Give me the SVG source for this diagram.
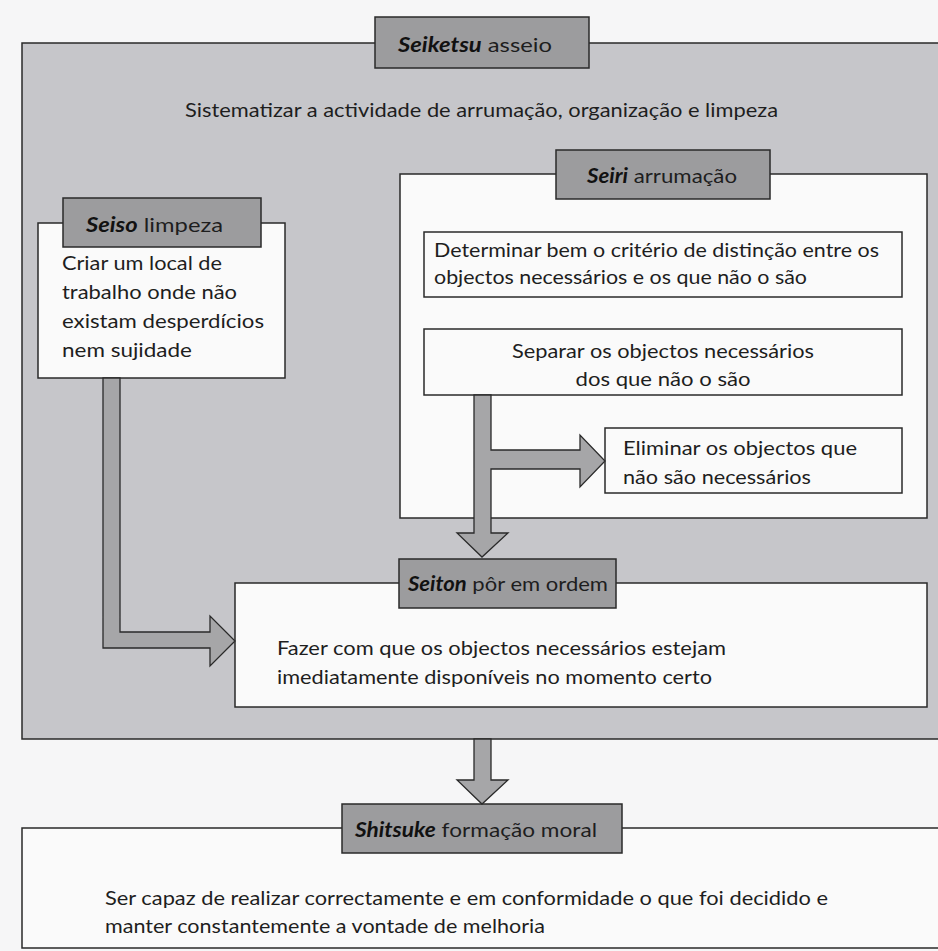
<svg xmlns="http://www.w3.org/2000/svg" width="938" height="951" viewBox="0 0 938 951">
  <style>
    .frame { fill: #c6c6ca; stroke: #2a2a2a; stroke-width: 1.5; }
    .box { fill: #fafafa; stroke: #2a2a2a; stroke-width: 1.5; }
    .tab { fill: #9c9c9e; stroke: #2a2a2a; stroke-width: 1.5; }
    .flow { fill: #a6a6a8; stroke: #2a2a2a; stroke-width: 1.3; stroke-linejoin: miter; }
    text { font-family: Lato, "Open Sans", "Liberation Sans", sans-serif; font-size: 20px; font-weight: 400; fill: #1e1e1e; }
    .key { font-weight: 700; font-style: italic; fill: #111; }
    .mid { text-anchor: middle; }
  </style>

  <rect x="0" y="0" width="938" height="951" fill="#f6f6f7"/>

  <!-- Seiketsu: outer frame holding the whole cycle -->
  <g id="seiketsu">
    <path class="frame" d="M22,43 H945 V739 H22 Z"/>
    <rect class="tab" x="375" y="17" width="214" height="51"/>
    <text x="398" y="52" textLength="154" lengthAdjust="spacingAndGlyphs"><tspan class="key">Seiketsu</tspan> asseio</text>
    <text x="185" y="117" textLength="593" lengthAdjust="spacingAndGlyphs">Sistematizar a actividade de arrumação, organização e limpeza</text>
  </g>

  <!-- Seiri: sorting steps -->
  <g id="seiri">
    <rect class="box" x="400" y="174" width="527" height="344"/>
    <rect class="tab" x="556" y="150" width="214" height="49"/>
    <text x="587" y="183" textLength="150" lengthAdjust="spacingAndGlyphs"><tspan class="key">Seiri</tspan> arrumação</text>
  </g>
  <g id="seiri-criterio">
    <rect class="box" x="424" y="232" width="478" height="65"/>
    <text x="434" y="257" textLength="445" lengthAdjust="spacingAndGlyphs">Determinar bem o critério de distinção entre os</text>
    <text x="434" y="284" textLength="373" lengthAdjust="spacingAndGlyphs">objectos necessários e os que não o são</text>
  </g>
  <g id="seiri-separar">
    <rect class="box" x="424" y="329" width="478" height="66"/>
    <text class="mid" x="663" y="358" textLength="302" lengthAdjust="spacingAndGlyphs">Separar os objectos necessários</text>
    <text class="mid" x="663" y="386" textLength="175" lengthAdjust="spacingAndGlyphs">dos que não o são</text>
  </g>
  <g id="seiri-eliminar">
    <rect class="box" x="605" y="428" width="297" height="65"/>
    <text x="623" y="455" textLength="234" lengthAdjust="spacingAndGlyphs">Eliminar os objectos que</text>
    <text x="623" y="484" textLength="188" lengthAdjust="spacingAndGlyphs">não são necessários</text>
  </g>

  <!-- Seiso: cleaning -->
  <g id="seiso">
    <rect class="box" x="38" y="223" width="247" height="155"/>
    <rect class="tab" x="63" y="198" width="198" height="49"/>
    <text x="86" y="232" textLength="137" lengthAdjust="spacingAndGlyphs"><tspan class="key">Seiso</tspan> limpeza</text>
    <text x="62" y="270" textLength="160" lengthAdjust="spacingAndGlyphs">Criar um local de</text>
    <text x="62" y="299" textLength="175" lengthAdjust="spacingAndGlyphs">trabalho onde não</text>
    <text x="62" y="328" textLength="202" lengthAdjust="spacingAndGlyphs">existam desperdícios</text>
    <text x="62" y="357" textLength="130" lengthAdjust="spacingAndGlyphs">nem sujidade</text>
  </g>

  <!-- Seiton: putting in order -->
  <g id="seiton">
    <rect class="box" x="235" y="583" width="692" height="124"/>
    <rect class="tab" x="399" y="559" width="217" height="49"/>
    <text x="408" y="591" textLength="200" lengthAdjust="spacingAndGlyphs"><tspan class="key">Seiton</tspan> pôr em ordem</text>
    <text x="277" y="655" textLength="449" lengthAdjust="spacingAndGlyphs">Fazer com que os objectos necessários estejam</text>
    <text x="277" y="684" textLength="435" lengthAdjust="spacingAndGlyphs">imediatamente disponíveis no momento certo</text>
  </g>

  <!-- Shitsuke: discipline -->
  <g id="shitsuke">
    <path class="box" d="M945,828 H22 V948 H945"/>
    <rect class="tab" x="342" y="804" width="280" height="49"/>
    <text x="355" y="837" textLength="242" lengthAdjust="spacingAndGlyphs"><tspan class="key">Shitsuke</tspan> formação moral</text>
    <text x="105" y="905" textLength="723" lengthAdjust="spacingAndGlyphs">Ser capaz de realizar correctamente e em conformidade o que foi decidido e</text>
    <text x="105" y="933" textLength="440" lengthAdjust="spacingAndGlyphs">manter constantemente a vontade de melhoria</text>
  </g>

  <!-- block arrows between stages -->
  <g id="connectors">
    <!-- Seiri: separar -> eliminar, and on down to Seiton -->
    <path class="flow" d="M474,395 V533 H457 L482,557 L508,533 H491 V469 H580 V487 L605,461 L580,435 V450 H491 V395 Z"/>
    <!-- Seiso -> Seiton -->
    <path class="flow" d="M103,378 V648 H210 V666 L235,641 L210,616 V632 H120 V378 Z"/>
    <!-- Seiketsu -> Shitsuke -->
    <path class="flow" d="M474,739 V780 H457 L482,804 L508,780 H491 V739 Z"/>
  </g>
</svg>
